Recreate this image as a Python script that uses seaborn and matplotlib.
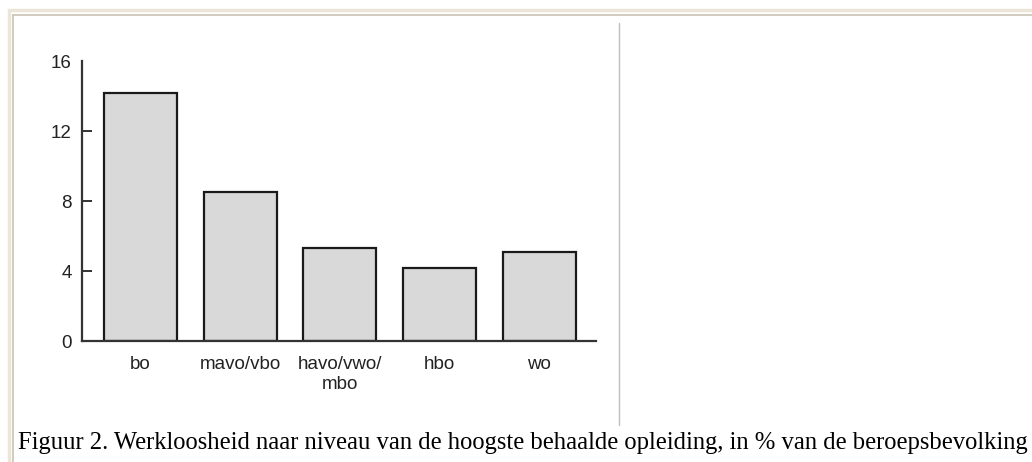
"""
Werkloosheid naar opleidingsniveau - staafdiagram (Figuur 2)
"""

import pandas as pd
import matplotlib.pyplot as plt
import seaborn as sns
from matplotlib.lines import Line2D

# Data
categories = ['bo', 'mavo/vbo', 'havo/vwo/\nmbo', 'hbo', 'wo']
werkloosheid = [14.2, 8.5, 5.3, 4.15, 5.1]
y_ticks = [0, 4, 8, 12, 16]
y_marks = [4, 8, 12]
caption = ('Figuur 2. Werkloosheid naar niveau van de hoogste behaalde opleiding, '
           'in % van de beroepsbevolking')

df = pd.DataFrame({'opleiding': categories, 'pct': werkloosheid})

sns.set_style('white')
plt.rcParams['font.family'] = ['Liberation Sans', 'DejaVu Sans']

fig = plt.figure(figsize=(10.32, 4.62), dpi=100)
ax = fig.add_axes([82 / 1032, 1 - 341 / 462, 514 / 1032, 280 / 462])

sns.barplot(data=df, x='opleiding', y='pct', color='#d9d9d9',
            edgecolor='#1a1a1a', linewidth=1.6, width=0.73, saturation=1, ax=ax)

ax.set_xlim(-0.587, 4.57)
ax.set_ylim(0, 16)
ax.set_yticks(y_ticks)
ax.set_yticks(y_marks, minor=True)
ax.yaxis.remove_overlapping_locs = False
ax.set_xlabel('')
ax.set_ylabel('')

for side in ['top', 'right']:
    ax.spines[side].set_visible(False)
for side in ['left', 'bottom']:
    ax.spines[side].set_color('#333333')
    ax.spines[side].set_linewidth(1.6)

# labels via major ticks (geen streepjes), streepjes via minor ticks
ax.tick_params(axis='y', which='major', length=0, labelsize=13.5, pad=7.5,
               labelcolor='#222222', left=True)
ax.tick_params(axis='y', which='minor', direction='in', length=7, width=1.4,
               color='#333333', left=True)
ax.tick_params(axis='x', length=0, labelsize=13.5, pad=11, labelcolor='#222222')

# kader van de pagina
fig.add_artist(Line2D([9 / 1032, 1], [1 - 10 / 462] * 2, color='#ebe6d8', lw=2.5,
                      transform=fig.transFigure))
fig.add_artist(Line2D([13 / 1032, 1], [1 - 15 / 462] * 2, color='#c9c4b4', lw=1.2,
                      transform=fig.transFigure))
fig.add_artist(Line2D([9 / 1032] * 2, [0, 1 - 10 / 462], color='#ebe6d8', lw=2.5,
                      transform=fig.transFigure))
fig.add_artist(Line2D([13 / 1032] * 2, [0, 1 - 15 / 462], color='#c9c4b4', lw=1.2,
                      transform=fig.transFigure))
# scheidingslijn
fig.add_artist(Line2D([619 / 1032] * 2, [1 - 425 / 462, 1 - 23 / 462], color='#bfbfbf',
                      lw=1.0, transform=fig.transFigure))

fig.text(18 / 1032, 1 - 443 / 462, caption, family=['Liberation Serif', 'DejaVu Serif'],
         fontsize=17.7, va='center', ha='left', color='black')

fig.savefig('out.png', dpi=100)
